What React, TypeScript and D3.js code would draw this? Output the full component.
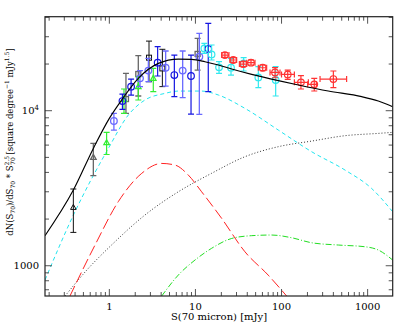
import React from 'react';
import * as d3 from 'd3';

// model curves: [S70 (mJy), dN/dS * S^2.5]
const totalModel: [number, number][] = [
  [0.179, 1563], [0.382, 3076], [0.652, 5714], [1.0, 8925], [1.39, 11720],
  [2.17, 16170], [3.71, 20200], [6.33, 21530], [9.04, 21430], [12.9, 20700],
  [18.5, 19700], [26.4, 18580], [45, 17150], [91.8, 15620], [157, 14650],
  [349, 13400], [853, 12320], [1330, 11540], [1955, 10610],
];
const cyanModel: [number, number][] = [
  [0.179, 809], [0.382, 2120], [0.974, 5710], [1.66, 9370], [2.59, 11720],
  [4.42, 12930], [6.33, 13390], [11.8, 13390], [18.5, 12620], [37.6, 10350],
  [91.8, 7500], [224, 5436], [547, 4140], [1110, 3155], [1955, 2230],
];
const redModel: [number, number][] = [
  [0.349, 638], [0.682, 1360], [1.27, 2590], [2.38, 3946], [4.06, 4570],
  [5.8, 4460], [8.27, 3845], [11.8, 3000], [20.2, 2018], [37.6, 1230],
  [70, 870], [114.6, 638],
];
const dottedModel: [number, number][] = [
  [0.306, 638], [0.57, 961], [1.06, 1360], [2.59, 2123], [6.33, 3000],
  [15.4, 3946], [37.6, 5050], [91.8, 5860], [224, 6370], [547, 6900],
  [1330, 7140], [1955, 7250],
];
const greenModel: [number, number][] = [
  [4.06, 638], [6.33, 871], [9.88, 1088], [15.4, 1295], [26.4, 1500],
  [45, 1563], [76.6, 1578], [130, 1517], [224, 1407], [458, 1360],
  [930, 1326], [1330, 1263], [1955, 1088],
];

type Pt = { s: number; v: number; lo: number; hi: number; slo?: number; shi?: number };

const blackTriangles: Pt[] = [
  { s: 0.382, v: 2378, lo: 1641, hi: 3126 },
];
const grayTriangles: Pt[] = [
  { s: 0.652, v: 5000, lo: 3811, hi: 6150 },
];
const blackSquares: Pt[] = [
  { s: 2.89, v: 21980, lo: 15380, hi: 28120 },
  { s: 4.13, v: 18740, lo: 14300, hi: 24890 },
];
const graySquares: Pt[] = [
  { s: 1.56, v: 11890, lo: 9610, hi: 17400 },
  { s: 2.17, v: 17240, lo: 12440, hi: 22660 },
  { s: 10.6, v: 23240, lo: 18280, hi: 29290 },
];
const blueDark: Pt[] = [
  { s: 1.42, v: 11540, lo: 10200, hi: 12810 },
  { s: 1.79, v: 14280, lo: 12620, hi: 16000 },
  { s: 3.64, v: 20420, lo: 16750, hi: 25880 },
  { s: 5.69, v: 16980, lo: 12310, hi: 22860 },
  { s: 8.89, v: 16750, lo: 9510, hi: 22860 },
  { s: 14.1, v: 25000, lo: 13270, hi: 36560 },
];
const blueLight: Pt[] = [
  { s: 1.13, v: 8580, lo: 7500, hi: 9610 },
  { s: 2.27, v: 16170, lo: 14300, hi: 18140 },
  { s: 2.84, v: 18140, lo: 15380, hi: 21770 },
  { s: 4.51, v: 18930, lo: 14420, hi: 24270 },
  { s: 7.11, v: 18140, lo: 12150, hi: 24270 },
  { s: 11.1, v: 22300, lo: 9470, hi: 31550 },
];
const greenTriangles: Pt[] = [
  { s: 0.93, v: 6220, lo: 5220, hi: 7250 },
  { s: 1.48, v: 11830, lo: 9610, hi: 13800 },
  { s: 2.17, v: 14280, lo: 11720, hi: 16560 },
  { s: 3.24, v: 16170, lo: 13260, hi: 18740 },
];
const cyanCircles: Pt[] = [
  { s: 12.7, v: 25230, lo: 23440, hi: 27180 },
  { s: 15.4, v: 23080, lo: 21230, hi: 26540 },
  { s: 18.8, v: 19040, lo: 17400, hi: 20700 },
  { s: 25.9, v: 18940, lo: 16980, hi: 21770 },
  { s: 36.3, v: 20180, lo: 18030, hi: 21980 },
  { s: 53.8, v: 16400, lo: 14070, hi: 19230 },
  { s: 85.5, v: 15780, lo: 12440, hi: 19230 },
];
const redCircles: Pt[] = [
  { s: 22, v: 22860, lo: 22080, hi: 23660, slo: 20.2, shi: 24.5 },
  { s: 27.5, v: 21230, lo: 20500, hi: 21990, slo: 25.2, shi: 30.1 },
  { s: 36, v: 20000, lo: 19230, hi: 20700, slo: 32.4, shi: 39.4 },
  { s: 44.2, v: 20400, lo: 19720, hi: 21230, slo: 39.4, shi: 49.2 },
  { s: 60.4, v: 18930, lo: 18130, hi: 19720, slo: 53.8, shi: 67.2 },
  { s: 84, v: 17660, lo: 16320, hi: 18940, slo: 73.5, shi: 96 },
  { s: 118, v: 17140, lo: 15920, hi: 18280, slo: 100, shi: 141 },
  { s: 168, v: 15240, lo: 13800, hi: 16820, slo: 141, shi: 205 },
  { s: 240, v: 14790, lo: 13400, hi: 16170, slo: 201, shi: 254 },
  { s: 400, v: 16000, lo: 14070, hi: 18030, slo: 280, shi: 570 },
];

const xMajor = [1, 10, 100, 1000];
const xMajorLabels = ['1', '10', '100', '1000'];

const W = 415;
const H = 332;
const L = 45, R = 392.7, T = 16.7, B = 296;

const x = d3.scaleLog().domain([0.179, 1955]).range([L, R]);
const y = d3.scaleLog().domain([638, 40400]).range([B, T]);

const line = d3.line<[number, number]>()
  .x(d => x(d[0]))
  .y(d => y(d[1]))
  .curve(d3.curveMonotoneX);

const serif = '"DejaVu Serif", "Liberation Serif", serif';

function minorTicks(domain: number[]) {
  const out: { v: number; major: boolean }[] = [];
  for (let e = -1; e <= 4; e++) {
    for (let m = 1; m <= 9; m++) {
      const v = m * Math.pow(10, e);
      if (v >= domain[0] * 0.999 && v <= domain[1] * 1.001) out.push({ v, major: m === 1 });
    }
  }
  return out;
}

const ErrorBars = ({ pts, color, marker, width = 1 }: { pts: Pt[]; color: string; marker: string; width?: number }) => (
  <g stroke={color} fill="none" strokeWidth={width}>
    {pts.map((p, i) => {
      const cx = x(p.s), cy = y(p.v), y0 = y(p.lo), y1 = y(p.hi);
      return (
        <g key={i}>
          <line x1={cx} x2={cx} y1={y0} y2={y1} />
          <line x1={cx - 3} x2={cx + 3} y1={y0} y2={y0} />
          <line x1={cx - 3} x2={cx + 3} y1={y1} y2={y1} />
          {p.slo !== undefined && p.shi !== undefined && (
            <g>
              <line x1={x(p.slo)} x2={x(p.shi)} y1={cy} y2={cy} />
              <line x1={x(p.slo)} x2={x(p.slo)} y1={cy - 3} y2={cy + 3} />
              <line x1={x(p.shi)} x2={x(p.shi)} y1={cy - 3} y2={cy + 3} />
            </g>
          )}
          {marker === 'circle' && <circle cx={cx} cy={cy} r={3.3} />}
          {marker === 'square' && <rect x={cx - 2.5} y={cy - 2.5} width={5} height={5} />}
          {marker === 'triangle' && (
            <path d={`M${cx},${cy - 3} L${cx + 2.8},${cy + 2} L${cx - 2.8},${cy + 2} Z`} />
          )}
        </g>
      );
    })}
  </g>
);

export default function App() {
  const xt = minorTicks(x.domain());
  const yt = minorTicks(y.domain());
  return (
    <svg width={W} height={H} style={{ position: 'absolute', left: 0, top: 0, background: '#fff' }}
      fontFamily={serif}>
      <defs>
        <clipPath id="plot">
          <rect x={L} y={T} width={R - L} height={B - T} />
        </clipPath>
      </defs>

      <g clipPath="url(#plot)" fill="none">
        <path d={line(greenModel) || ''} stroke="#22dd22" strokeWidth={1} strokeDasharray="6 2 1 2" />
        <path d={line(dottedModel) || ''} stroke="#333" strokeWidth={1} strokeDasharray="1 2" />
        <path d={line(redModel) || ''} stroke="#ff2222" strokeWidth={1} strokeDasharray="11 4" />
        <path d={line(cyanModel) || ''} stroke="#22e5ee" strokeWidth={1} strokeDasharray="4 3" />

        <ErrorBars pts={graySquares} color="#666" marker="square" width={1.3} />
        <ErrorBars pts={blackSquares} color="#111" marker="square" />
        <ErrorBars pts={grayTriangles} color="#666" marker="triangle" width={1.3} />
        <ErrorBars pts={blackTriangles} color="#111" marker="triangle" />
        <ErrorBars pts={greenTriangles} color="#33ee33" marker="triangle" width={1.2} />
        <ErrorBars pts={blueLight} color="#6a6aff" marker="circle" width={1.3} />
        <ErrorBars pts={blueDark} color="#1515e0" marker="circle" width={1.2} />
        <ErrorBars pts={cyanCircles} color="#33e8ee" marker="circle" width={1.2} />
        <ErrorBars pts={redCircles} color="#ff3333" marker="circle" width={1.2} />

        <path d={line(totalModel) || ''} stroke="#000" strokeWidth={1.15} />
      </g>

      {/* ticks */}
      <g stroke="#555" strokeWidth={1}>
        {xt.map((t, i) => {
          const len = t.major ? 7 : 4;
          const px = x(t.v);
          return (
            <g key={'x' + i}>
              <line x1={px} x2={px} y1={B} y2={B - len} />
              <line x1={px} x2={px} y1={T} y2={T + len} />
            </g>
          );
        })}
        {yt.map((t, i) => {
          const len = t.major ? 7 : 4;
          const py = y(t.v);
          return (
            <g key={'y' + i}>
              <line x1={L} x2={L + len} y1={py} y2={py} />
              <line x1={R} x2={R - len} y1={py} y2={py} />
            </g>
          );
        })}
      </g>
      <rect x={L} y={T} width={R - L} height={B - T} fill="none" stroke="#222" strokeWidth={1.2} />

      {/* tick labels */}
      <g fontSize={10} fill="#000" textAnchor="middle">
        {xMajor.map((v, i) => (
          <text key={v} x={x(v)} y={310}>{xMajorLabels[i]}</text>
        ))}
      </g>
      <g fontSize={10} fill="#000" textAnchor="end">
        <text x={39} y={y(1000) + 3.5}>1000</text>
        <text x={39} y={y(10000) + 3.5}>
          10<tspan fontSize={7} dy={-4}>4</tspan>
        </text>
      </g>

      {/* axis titles */}
      <text x={219} y={320} fontSize={10} textAnchor="middle">S(70 micron) [mJy]</text>
      <text transform={`translate(13,142) rotate(-90)`} fontSize={8.5} textAnchor="middle">
        dN(S<tspan fontSize={6} dy={2}>70</tspan>
        <tspan dy={-2}>)/dS</tspan>
        <tspan fontSize={6} dy={2}>70</tspan>
        <tspan dy={-2}> * S</tspan>
        <tspan fontSize={6} dy={-4}>2.5</tspan>
        <tspan fontSize={6} dx={-9} dy={6}>70</tspan>
        <tspan dy={-2}> [square degree</tspan>
        <tspan fontSize={6} dy={-4}>−1</tspan>
        <tspan dy={4}> mJy</tspan>
        <tspan fontSize={6} dy={-4}>1.5</tspan>
        <tspan dy={4}>]</tspan>
      </text>
    </svg>
  );
}
